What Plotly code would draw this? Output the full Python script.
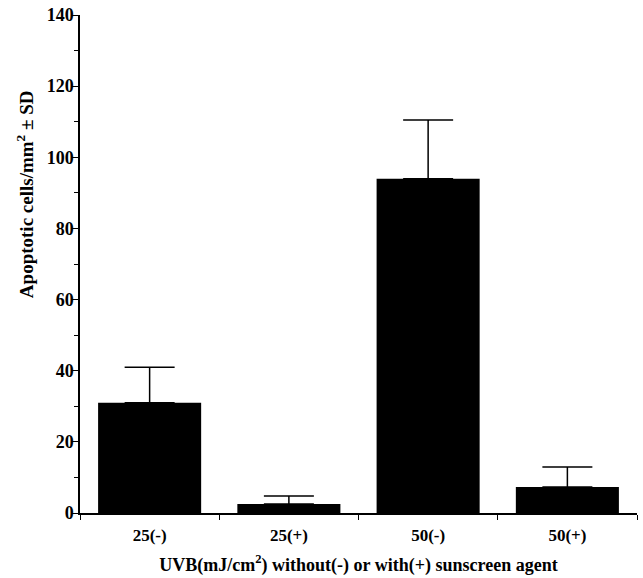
import plotly.graph_objects as go

# Apoptotic cell counts after UVB exposure, with and without sunscreen
categories = ["25(-)", "25(+)", "50(-)", "50(+)"]
mean_cells = [31, 2.5, 94, 7.3]
sd_cells = [10, 2.3, 16.5, 5.6]
y_ticks = [0, 20, 40, 60, 80, 100, 120, 140]

serif = "Liberation Serif, Times New Roman, serif"

fig = go.Figure(
    go.Bar(
        x=categories,
        y=mean_cells,
        width=0.74,
        marker=dict(color="black", line=dict(width=0)),
        error_y=dict(
            type="data",
            symmetric=False,
            array=sd_cells,
            arrayminus=[0] * len(sd_cells),
            color="black",
            thickness=1.5,
            width=25,
        ),
    )
)

fig.update_layout(
    width=643,
    height=578,
    margin=dict(l=80, r=6, t=15, b=65),
    paper_bgcolor="white",
    plot_bgcolor="white",
    showlegend=False,
    font=dict(family=serif, color="black", size=17),
    xaxis=dict(
        type="category",
        tickson="boundaries",
        ticks="outside",
        ticklen=5,
        tickwidth=1.2,
        tickcolor="black",
        showline=True,
        linecolor="black",
        linewidth=1.5,
        showgrid=False,
        zeroline=False,
        ticklabelstandoff=6,
        tickfont=dict(family=serif, size=17, color="black", weight="bold"),
        range=[-0.5, 3.5],
        title=dict(
            text="UVB(mJ/cm<sup>2</sup>) without(-) or with(+) sunscreen agent",
            font=dict(family=serif, size=18, color="black", weight="bold"),
            standoff=14,
        ),
    ),
    yaxis=dict(
        range=[0, 140],
        tickvals=y_ticks,
        ticks="outside",
        ticklen=6,
        tickwidth=1.2,
        tickcolor="black",
        showline=True,
        linecolor="black",
        linewidth=1.5,
        showgrid=False,
        zeroline=False,
        ticklabelstandoff=-5,
        tickfont=dict(family=serif, size=18, color="black", weight="bold"),
        minor=dict(dtick=10, ticks="outside", ticklen=4, tickwidth=1.2,
                   tickcolor="black", showgrid=False),
    ),
    annotations=[
        dict(
            text="Apoptotic cells/mm<sup>2</sup> ± SD",
            textangle=-90,
            xref="paper", yref="paper",
            x=-0.099, y=0.64,
            xanchor="center", yanchor="middle",
            showarrow=False,
            font=dict(family=serif, size=19, color="black", weight="bold"),
        )
    ],
)

fig.write_html("out.html")
